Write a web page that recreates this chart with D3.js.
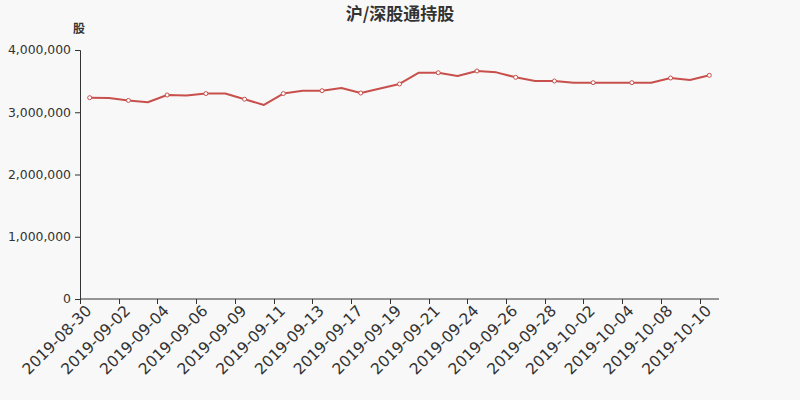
<!DOCTYPE html>
<html><head><meta charset="utf-8">
<script src="https://cdn.jsdelivr.net/npm/d3@7/dist/d3.min.js"></script>
<style>body{margin:0;background:#f8f8f8;}svg{display:block;font-family:"DejaVu Sans",sans-serif;}</style>
</head><body><svg id="c" width="800" height="400"></svg>
<script>
const dates = ["2019-08-30","2019-08-31","2019-09-02","2019-09-03","2019-09-04","2019-09-05","2019-09-06","2019-09-07","2019-09-09","2019-09-10","2019-09-11","2019-09-12","2019-09-13","2019-09-16","2019-09-17","2019-09-18","2019-09-19","2019-09-20","2019-09-21","2019-09-23","2019-09-24","2019-09-25","2019-09-26","2019-09-27","2019-09-28","2019-09-30","2019-10-02","2019-10-03","2019-10-04","2019-10-07","2019-10-08","2019-10-09","2019-10-10"];
const holdings = [3234000,3230000,3190000,3160000,3277000,3270000,3300000,3300000,3210000,3117000,3300000,3346000,3346000,3390000,3309000,3380000,3454000,3635000,3635000,3582000,3663000,3641000,3561000,3502000,3502000,3475000,3475000,3475000,3475000,3475000,3550000,3518000,3593000];
const yTicks = [0,1000000,2000000,3000000,4000000];
const title = "沪/深股通持股";
const yUnit = "股";

(function(){
const svg = d3.select("#c");
const mL=80, mR=719, mT=50, mB=299;
const x = d3.scaleBand().domain(dates).range([mL,mR]);
const y = d3.scaleLinear().domain([0,4000000]).range([mB,mT]);
const color = "#c8504c";

svg.append("text").attr("x",400).attr("y",20).attr("text-anchor","middle")
  .attr("font-family","'Noto Sans CJK SC',sans-serif").attr("font-weight","bold")
  .attr("font-size",17).attr("fill","#333").text(title);
svg.append("text").attr("x",79).attr("y",33).attr("text-anchor","middle")
  .attr("font-family","'Noto Sans CJK SC',sans-serif").attr("font-weight","bold")
  .attr("font-size",12).attr("fill","#333").text(yUnit);

const yAxis = svg.append("g").attr("transform",`translate(${mL},0)`)
  .call(d3.axisLeft(y).tickValues(yTicks).tickSize(5).tickPadding(4).tickFormat(d3.format(",")));
yAxis.selectAll("path,line").attr("stroke","#333");
yAxis.selectAll("text").attr("fill","#333").attr("font-size",12.4).attr("font-family","'DejaVu Sans',sans-serif");

const xAxis = svg.append("g").attr("transform",`translate(0,${mB})`);
xAxis.append("line").attr("x1",mL).attr("x2",mR).attr("y1",0).attr("y2",0).attr("stroke","#333");
const tickIdx = dates.map((d,i)=>i).filter(i=>i%2===0);
xAxis.selectAll("line.tk").data(tickIdx).join("line").attr("class","tk")
  .attr("x1",i=>Math.round(x(dates[i]))+0.5).attr("x2",i=>Math.round(x(dates[i]))+0.5)
  .attr("y1",0).attr("y2",5).attr("stroke","#333");
xAxis.selectAll("text").data(tickIdx).join("text")
  .attr("transform",i=>`translate(${x(dates[i])+x.bandwidth()/2-1},9) rotate(-45)`)
  .attr("text-anchor","end").attr("dy","0.35em").attr("font-size",15.5).attr("fill","#333")
  .text(i=>dates[i]);

const cx = d=>x(d)+x.bandwidth()/2;
const line = d3.line().x((v,i)=>cx(dates[i])).y(v=>y(v));
svg.append("path").datum(holdings).attr("d",line).attr("fill","none")
  .attr("stroke",color).attr("stroke-width",2).attr("stroke-linejoin","round");
svg.selectAll("circle").data(holdings.map((v,i)=>[i,v]).filter(p=>p[0]%2===0)).join("circle")
  .attr("cx",p=>cx(dates[p[0]])).attr("cy",p=>y(p[1])).attr("r",2)
  .attr("fill","#fff").attr("stroke",color).attr("stroke-width",1);
})();
</script></body></html>
